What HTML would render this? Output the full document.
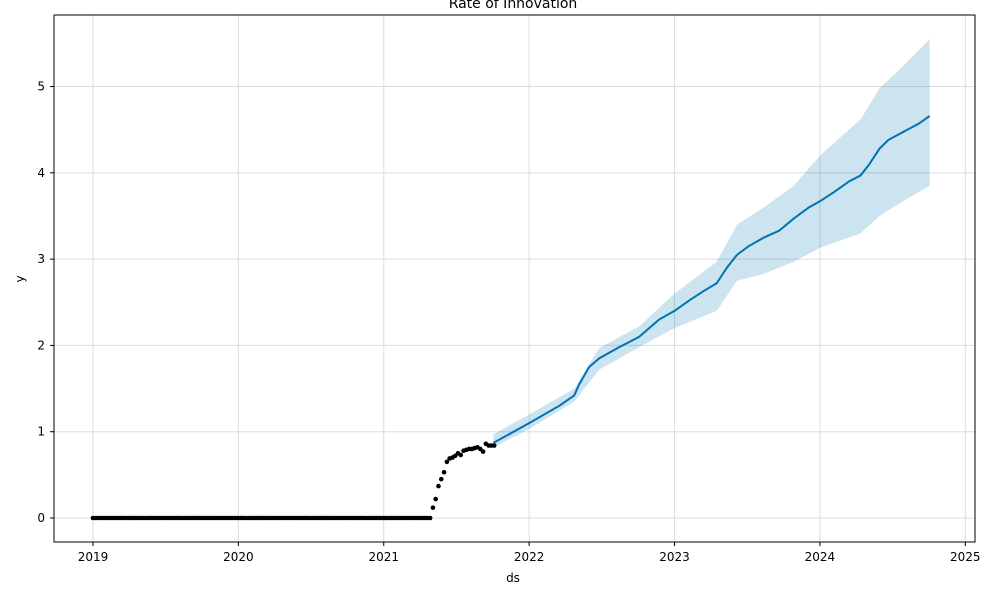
<!DOCTYPE html>
<html><head><meta charset="utf-8"><style>
body{margin:0;background:#fff;}
svg text{font-family:"DejaVu Sans","Liberation Sans",sans-serif;fill:#000;}
</style></head><body>
<svg id="chart" width="1000" height="600" xmlns="http://www.w3.org/2000/svg">
<text x="513" y="8" font-size="14" text-anchor="middle">Rate of Innovation</text>
<g id="grid"></g><g id="band"></g><g id="line"></g><g id="pts"></g><g id="axes"></g>
<rect x="54" y="15" width="921" height="527" fill="none" stroke="#000" stroke-width="1"/>
<text x="513" y="582" font-size="12" text-anchor="middle">ds</text>
<text x="0" y="0" font-size="12" text-anchor="middle" transform="translate(24,279) rotate(-90)">y</text>
</svg>
<script>
const xTicks=[2019,2020,2021,2022,2023,2024,2025];
const yTicks=[0,1,2,3,4,5];
const histZeros=new Array(122).fill(0);
const histTail=[0.12,0.22,0.37,0.45,0.53,0.65,0.69,0.70,0.72,0.75,0.73,0.78,0.79,0.80,0.80,0.81,0.82,0.80,0.77,0.86,0.84,0.84,0.84];
const fcDates=[2021.754,2022.0,2022.207,2022.31,2022.345,2022.413,2022.482,2022.62,2022.757,2022.894,2023.0,2023.1,2023.2,2023.29,2023.36,2023.43,2023.51,2023.615,2023.72,2023.82,2023.925,2024.0,2024.1,2024.2,2024.28,2024.34,2024.41,2024.47,2024.58,2024.68,2024.755];
const fcValues=[0.87,1.1,1.3,1.42,1.55,1.75,1.85,1.98,2.1,2.3,2.4,2.52,2.63,2.72,2.9,3.05,3.15,3.25,3.33,3.47,3.6,3.67,3.78,3.9,3.97,4.1,4.28,4.38,4.48,4.57,4.66];
const bandDates=[2021.754,2022.0,2022.31,2022.482,2022.757,2023.0,2023.29,2023.43,2023.615,2023.82,2024.0,2024.28,2024.41,2024.58,2024.755];
const bandLower=[0.82,1.03,1.35,1.72,1.98,2.2,2.4,2.75,2.83,2.97,3.13,3.3,3.5,3.68,3.85];
const bandUpper=[0.97,1.2,1.5,1.97,2.22,2.6,2.97,3.4,3.6,3.85,4.2,4.62,4.98,5.25,5.55];
const X0=2018.732,X1=2025.0667,Y0=-0.278,Y1=5.829;
const sx=v=>54+(v-X0)/(X1-X0)*921;
const sy=v=>542-(v-Y0)/(Y1-Y0)*527;
const NS="http://www.w3.org/2000/svg";
function mk(t,p,a){const e=document.createElementNS(NS,t);for(const k in a)e.setAttribute(k,a[k]);p.appendChild(e);return e;}
const grid=document.getElementById('grid'),axes=document.getElementById('axes');
xTicks.forEach(t=>{
 const g=mk('line',grid,{x1:sx(t),x2:sx(t),y1:15,y2:542,stroke:'#ddd','stroke-width':1});
 
 
 const tk=mk('line',axes,{x1:sx(t),x2:sx(t),y1:542,y2:546,stroke:'#000'});
 
 
 const l=mk('text',axes,{x:sx(t),y:561,'font-size':12,'text-anchor':'middle'});l.textContent=t;
 
 
});
yTicks.forEach(t=>{
 const g=mk('line',grid,{x1:54,x2:975,y1:sy(t),y2:sy(t),stroke:'#ddd','stroke-width':1});
 
 
 const tk=mk('line',axes,{x1:50,x2:54,y1:sy(t),y2:sy(t),stroke:'#000'});
 
 
 const l=mk('text',axes,{x:45,y:sy(t)+4,'font-size':12,'text-anchor':'end'});l.textContent=t;
 
 
});
let d='';
bandDates.forEach((t,i)=>{d+=(i?'L':'M')+sx(t)+','+sy(bandUpper[i]);});
for(let i=bandDates.length-1;i>=0;i--)d+='L'+sx(bandDates[i])+','+sy(bandLower[i]);
const b=mk('path',document.getElementById('band'),{d:d+'Z',fill:'#0072B2','fill-opacity':0.2,stroke:'none'});


const ln=mk('polyline',document.getElementById('line'),{points:fcDates.map((t,i)=>sx(t)+','+sy(fcValues[i])).join(' '),fill:'none',stroke:'#0072B2','stroke-width':2});


const hist=histZeros.concat(histTail);
const pts=document.getElementById('pts');
hist.forEach((v,i)=>{
 const c=mk('circle',pts,{cx:sx(2019.0+i*7/365.25),cy:sy(v),r:2.3,fill:'#000'});
 
 
});
</script>
</body></html>
